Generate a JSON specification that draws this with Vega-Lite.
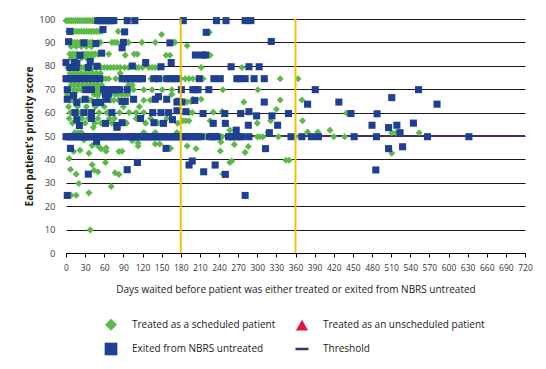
{
"$schema": "https://vega.github.io/schema/vega-lite/v6.json",
"width": 459, "height": 234,
"autosize": {"type": "none"},
"padding": {"left": 66, "top": 19, "right": 21, "bottom": 116},
"background": "white",
"config": {"font": "Open Sans", "view": {"stroke": null}},
"layer": [
{"data": {"values": [{"s": 50}]}, "mark": {"type": "rule", "color": "#4b2a5e", "strokeWidth": 2}, "encoding": {"y": {"field": "s", "type": "quantitative", "scale": {"domain": [0, 100]},
 "axis": {"values": [0,10,20,30,40,50,60,70,80,90,100], "grid": true, "gridColor": "#1a1a1a", "gridWidth": 1, "domain": false, "ticks": false, "labelPadding": 11, "labelFontSize": 9.5, "labelColor": "#444444", "title": "Each patient's priority score", "titleFontSize": 10, "titleFontWeight": "bold", "titleColor": "#1a1a1a", "titlePadding": 4}}}},
{"data": {"values": [
{"d":0,"s":99.3,"t":"G"},{"d":3,"s":99.3,"t":"G"},{"d":6,"s":99.3,"t":"G"},{"d":9,"s":99.3,"t":"G"},{"d":12,"s":99.3,"t":"G"},{"d":15,"s":99.3,"t":"G"},{"d":18,"s":99.3,"t":"G"},{"d":21,"s":99.3,"t":"G"},{"d":24,"s":99.3,"t":"G"},{"d":27,"s":99.3,"t":"G"},{"d":30,"s":99.3,"t":"G"},{"d":33,"s":99.3,"t":"G"},{"d":36,"s":99.3,"t":"G"},{"d":39,"s":99.3,"t":"G"},{"d":42,"s":99.3,"t":"G"},{"d":45,"s":99.3,"t":"G"},
{"d":4,"s":94.7,"t":"G"},{"d":8,"s":94.7,"t":"G"},{"d":12,"s":94.7,"t":"G"},{"d":16,"s":94.7,"t":"G"},{"d":20,"s":94.7,"t":"G"},{"d":24,"s":94.7,"t":"G"},{"d":28,"s":94.7,"t":"G"},{"d":32,"s":94.7,"t":"G"},{"d":36,"s":94.7,"t":"G"},{"d":40,"s":94.7,"t":"G"},{"d":44,"s":94.7,"t":"G"},{"d":48,"s":94.7,"t":"G"},{"d":52,"s":94.7,"t":"G"},{"d":56,"s":94.7,"t":"G"},{"d":82,"s":94.7,"t":"G"},{"d":150,"s":93.4,"t":"G"},{"d":225,"s":94.3,"t":"G"},
{"d":6,"s":90,"t":"G"},{"d":10,"s":90,"t":"G"},{"d":14,"s":90,"t":"G"},{"d":18,"s":90,"t":"G"},{"d":22,"s":90,"t":"G"},{"d":26,"s":90,"t":"G"},{"d":30,"s":90,"t":"G"},{"d":34,"s":90,"t":"G"},{"d":38,"s":90,"t":"G"},{"d":42,"s":90,"t":"G"},{"d":50,"s":90,"t":"G"},{"d":54,"s":90,"t":"G"},{"d":72,"s":90,"t":"G"},{"d":76,"s":90,"t":"G"},{"d":80,"s":90,"t":"G"},{"d":98,"s":90,"t":"G"},{"d":119,"s":90,"t":"G"},{"d":140,"s":90,"t":"G"},{"d":171,"s":90,"t":"G"},
{"d":8,"s":88.3,"t":"G"},{"d":16,"s":88.3,"t":"G"},{"d":24,"s":88.3,"t":"G"},{"d":32,"s":88.3,"t":"G"},{"d":40,"s":88.3,"t":"G"},{"d":190,"s":88.6,"t":"G"},
{"d":6,"s":85,"t":"G"},{"d":10,"s":85,"t":"G"},{"d":14,"s":85,"t":"G"},{"d":18,"s":85,"t":"G"},{"d":26,"s":85,"t":"G"},{"d":30,"s":85,"t":"G"},{"d":34,"s":85,"t":"G"},{"d":38,"s":85,"t":"G"},{"d":42,"s":85,"t":"G"},{"d":46,"s":85,"t":"G"},{"d":50,"s":85,"t":"G"},{"d":67,"s":85,"t":"G"},{"d":107,"s":85,"t":"G"},{"d":112,"s":85,"t":"G"},
{"d":8,"s":83.3,"t":"G"},{"d":16,"s":83.3,"t":"G"},{"d":24,"s":83.3,"t":"G"},{"d":32,"s":83.3,"t":"G"},{"d":40,"s":83.3,"t":"G"},
{"d":93,"s":84.5,"t":"G"},{"d":157,"s":84.5,"t":"G"},{"d":163,"s":84.5,"t":"G"},{"d":226,"s":84.5,"t":"G"},
{"d":3,"s":79.3,"t":"G"},{"d":9,"s":79.3,"t":"G"},{"d":12,"s":79.3,"t":"G"},{"d":20,"s":79.3,"t":"G"},{"d":24,"s":79.3,"t":"G"},{"d":28,"s":79.3,"t":"G"},{"d":31,"s":79.3,"t":"G"},{"d":42,"s":79.3,"t":"G"},{"d":46,"s":79.3,"t":"G"},{"d":55,"s":79.3,"t":"G"},{"d":60,"s":79.3,"t":"G"},{"d":65,"s":79.3,"t":"G"},{"d":70,"s":79.3,"t":"G"},{"d":75,"s":79.3,"t":"G"},{"d":80,"s":79.3,"t":"G"},{"d":85,"s":79.3,"t":"G"},{"d":92,"s":79.3,"t":"G"},{"d":98,"s":79.3,"t":"G"},{"d":110,"s":79.3,"t":"G"},{"d":114,"s":79.3,"t":"G"},{"d":120,"s":79.3,"t":"G"},{"d":130,"s":79.3,"t":"G"},{"d":135,"s":79.3,"t":"G"},{"d":140,"s":79.3,"t":"G"},{"d":145,"s":79.3,"t":"G"},{"d":212,"s":79.3,"t":"G"},{"d":276,"s":79.3,"t":"G"},
{"d":6,"s":76.8,"t":"G"},{"d":12,"s":76.8,"t":"G"},{"d":18,"s":76.8,"t":"G"},{"d":24,"s":76.8,"t":"G"},{"d":30,"s":76.8,"t":"G"},{"d":36,"s":76.8,"t":"G"},{"d":42,"s":76.8,"t":"G"},{"d":48,"s":76.8,"t":"G"},{"d":54,"s":76.8,"t":"G"},{"d":85,"s":76.8,"t":"G"},
{"d":57,"s":74.5,"t":"G"},{"d":62,"s":74.5,"t":"G"},{"d":67,"s":74.5,"t":"G"},{"d":78,"s":74.5,"t":"G"},{"d":133,"s":74.5,"t":"G"},{"d":150,"s":74.5,"t":"G"},{"d":175,"s":74.5,"t":"G"},{"d":180,"s":74.5,"t":"G"},{"d":187,"s":74.5,"t":"G"},{"d":193,"s":74.5,"t":"G"},{"d":199,"s":74.5,"t":"G"},{"d":215,"s":74.5,"t":"G"},{"d":336,"s":74.5,"t":"G"},{"d":364,"s":74.5,"t":"G"},
{"d":8,"s":71.8,"t":"G"},{"d":14,"s":71.8,"t":"G"},{"d":20,"s":71.8,"t":"G"},{"d":26,"s":71.8,"t":"G"},{"d":32,"s":71.8,"t":"G"},{"d":38,"s":71.8,"t":"G"},{"d":44,"s":71.8,"t":"G"},{"d":50,"s":71.8,"t":"G"},{"d":56,"s":71.8,"t":"G"},{"d":98,"s":71.8,"t":"G"},{"d":104,"s":71.8,"t":"G"},
{"d":12,"s":69.8,"t":"G"},{"d":18,"s":69.8,"t":"G"},{"d":24,"s":69.8,"t":"G"},{"d":48,"s":69.8,"t":"G"},{"d":52,"s":69.8,"t":"G"},{"d":106,"s":69.8,"t":"G"},{"d":122,"s":69.8,"t":"G"},{"d":135,"s":69.8,"t":"G"},{"d":151,"s":69.8,"t":"G"},{"d":166,"s":69.8,"t":"G"},{"d":246,"s":69.8,"t":"G"},{"d":301,"s":69.8,"t":"G"},
{"d":2,"s":67.8,"t":"G"},{"d":6,"s":67.8,"t":"G"},{"d":10,"s":67.8,"t":"G"},{"d":44,"s":67.8,"t":"G"},{"d":48,"s":67.8,"t":"G"},{"d":52,"s":67.8,"t":"G"},{"d":77,"s":67.8,"t":"G"},{"d":82,"s":67.8,"t":"G"},{"d":87,"s":67.8,"t":"G"},{"d":92,"s":67.8,"t":"G"},{"d":97,"s":67.8,"t":"G"},{"d":166,"s":67.8,"t":"G"},
{"d":6,"s":65.3,"t":"G"},{"d":10,"s":65.3,"t":"G"},{"d":14,"s":65.3,"t":"G"},{"d":22,"s":65.3,"t":"G"},{"d":26,"s":65.3,"t":"G"},{"d":36,"s":65.3,"t":"G"},{"d":40,"s":65.3,"t":"G"},{"d":50,"s":65.3,"t":"G"},{"d":58,"s":65.3,"t":"G"},{"d":70,"s":65.3,"t":"G"},{"d":75,"s":65.3,"t":"G"},{"d":82,"s":65.3,"t":"G"},{"d":122,"s":65.3,"t":"G"},{"d":132,"s":65.3,"t":"G"},{"d":190,"s":64.5,"t":"G"},{"d":196,"s":64.8,"t":"G"},{"d":199,"s":65.7,"t":"G"},{"d":212,"s":65.7,"t":"G"},{"d":279,"s":64.5,"t":"G"},{"d":336,"s":65.4,"t":"G"},{"d":370,"s":65.4,"t":"G"},
{"d":4,"s":62.5,"t":"G"},{"d":18,"s":62.5,"t":"G"},{"d":32,"s":62.5,"t":"G"},{"d":46,"s":62.5,"t":"G"},{"d":60,"s":62.5,"t":"G"},{"d":90,"s":62.5,"t":"G"},{"d":115,"s":62.5,"t":"G"},
{"d":7,"s":60,"t":"G"},{"d":20,"s":60,"t":"G"},{"d":33,"s":60,"t":"G"},{"d":52,"s":60,"t":"G"},{"d":64,"s":60,"t":"G"},{"d":84,"s":60,"t":"G"},{"d":99,"s":60,"t":"G"},{"d":110,"s":60,"t":"G"},{"d":122,"s":60,"t":"G"},{"d":193,"s":60,"t":"G"},{"d":198,"s":60,"t":"G"},{"d":231,"s":60.2,"t":"G"},{"d":245,"s":60.5,"t":"G"},{"d":440,"s":59.8,"t":"G"},{"d":330,"s":61.4,"t":"G"},
{"d":5,"s":57.5,"t":"G"},{"d":25,"s":57.5,"t":"G"},{"d":35,"s":57.5,"t":"G"},{"d":50,"s":57.5,"t":"G"},{"d":68,"s":57.5,"t":"G"},{"d":76,"s":57.5,"t":"G"},{"d":110,"s":57.5,"t":"G"},{"d":133,"s":57.5,"t":"G"},{"d":158,"s":57.5,"t":"G"},
{"d":10,"s":55.5,"t":"G"},{"d":30,"s":55.5,"t":"G"},{"d":45,"s":55.5,"t":"G"},{"d":55,"s":55.5,"t":"G"},{"d":72,"s":55.5,"t":"G"},{"d":95,"s":55.5,"t":"G"},{"d":125,"s":55.5,"t":"G"},{"d":145,"s":55.5,"t":"G"},{"d":175,"s":55.5,"t":"G"},{"d":300,"s":55.5,"t":"G"},
{"d":183,"s":56.5,"t":"G"},{"d":188,"s":56.5,"t":"G"},{"d":193,"s":56.5,"t":"G"},{"d":226,"s":56.5,"t":"G"},{"d":321,"s":56.5,"t":"G"},{"d":371,"s":56.5,"t":"G"},
{"d":14,"s":51.5,"t":"G"},{"d":19,"s":51.5,"t":"G"},{"d":24,"s":51.5,"t":"G"},{"d":122,"s":51.5,"t":"G"},{"d":140,"s":51.5,"t":"G"},{"d":174,"s":51.5,"t":"G"},{"d":317,"s":51.5,"t":"G"},{"d":379,"s":51.7,"t":"G"},{"d":395,"s":51.7,"t":"G"},{"d":511,"s":51.4,"t":"G"},{"d":518,"s":51.4,"t":"G"},{"d":554,"s":51.4,"t":"G"},
{"d":43,"s":53.7,"t":"G"},{"d":257,"s":52.5,"t":"G"},{"d":414,"s":52.5,"t":"G"},
{"d":90,"s":49.7,"t":"G"},{"d":94,"s":49.7,"t":"G"},{"d":122,"s":49.7,"t":"G"},{"d":128,"s":49.7,"t":"G"},{"d":150,"s":49.7,"t":"G"},{"d":182,"s":49.7,"t":"G"},{"d":218,"s":49.7,"t":"G"},{"d":241,"s":49.7,"t":"G"},{"d":245,"s":49.7,"t":"G"},{"d":280,"s":49.7,"t":"G"},{"d":300,"s":49.7,"t":"G"},{"d":304,"s":49.7,"t":"G"},{"d":309,"s":49.7,"t":"G"},{"d":333,"s":49.7,"t":"G"},{"d":360,"s":49.7,"t":"G"},{"d":420,"s":49.7,"t":"G"},{"d":437,"s":49.7,"t":"G"},
{"d":28,"s":48.3,"t":"G"},{"d":41,"s":45.9,"t":"G"},{"d":12,"s":43.4,"t":"G"},{"d":22,"s":43.9,"t":"G"},{"d":36,"s":42.6,"t":"G"},{"d":51,"s":45.5,"t":"G"},{"d":55,"s":44.5,"t":"G"},{"d":63,"s":45,"t":"G"},{"d":63,"s":43.5,"t":"G"},{"d":83,"s":43.4,"t":"G"},{"d":88,"s":43.5,"t":"G"},{"d":104,"s":48,"t":"G"},{"d":113,"s":47,"t":"G"},{"d":113,"s":45.7,"t":"G"},{"d":140,"s":46.6,"t":"G"},{"d":147,"s":46.6,"t":"G"},{"d":164,"s":44.7,"t":"G"},{"d":190,"s":45.7,"t":"G"},{"d":204,"s":44.6,"t":"G"},{"d":242,"s":43.6,"t":"G"},{"d":243,"s":47.4,"t":"G"},{"d":264,"s":46.4,"t":"G"},{"d":281,"s":43,"t":"G"},{"d":286,"s":45.5,"t":"G"},{"d":5,"s":40.4,"t":"G"},{"d":62,"s":38.7,"t":"G"},{"d":41,"s":37.7,"t":"G"},{"d":44,"s":35.4,"t":"G"},{"d":50,"s":34.7,"t":"G"},{"d":7,"s":35.7,"t":"G"},{"d":16,"s":33.7,"t":"G"},{"d":20,"s":29.7,"t":"G"},{"d":77,"s":34.3,"t":"G"},{"d":83,"s":33.6,"t":"G"},{"d":71,"s":28.4,"t":"G"},{"d":8,"s":24.7,"t":"G"},{"d":16,"s":24.7,"t":"G"},{"d":36,"s":25.7,"t":"G"},{"d":38,"s":9.8,"t":"G"},{"d":257,"s":38.7,"t":"G"},{"d":260,"s":39.3,"t":"G"},{"d":246,"s":33.8,"t":"G"},{"d":345,"s":39.6,"t":"G"},{"d":350,"s":39.6,"t":"G"},{"d":511,"s":42.6,"t":"G"},
{"d":48,"s":99.3,"t":"R"},
{"d":50,"s":99.3,"t":"B"},{"d":54,"s":99.3,"t":"B"},{"d":58,"s":99.3,"t":"B"},{"d":62,"s":99.3,"t":"B"},{"d":66,"s":99.3,"t":"B"},{"d":70,"s":99.3,"t":"B"},{"d":75,"s":99.3,"t":"B"},{"d":96,"s":99.3,"t":"B"},{"d":108,"s":99.3,"t":"B"},{"d":184,"s":99.3,"t":"B"},{"d":236,"s":99.3,"t":"B"},{"d":251,"s":99.3,"t":"B"},{"d":281,"s":99.3,"t":"B"},{"d":290,"s":99.3,"t":"B"},
{"d":6,"s":94.7,"t":"B"},{"d":58,"s":95.5,"t":"B"},{"d":92,"s":94.5,"t":"B"},{"d":220,"s":94.3,"t":"B"},
{"d":4,"s":90.3,"t":"B"},{"d":28,"s":89.8,"t":"B"},{"d":47,"s":89.5,"t":"B"},{"d":90,"s":90,"t":"B"},{"d":88,"s":87.7,"t":"B"},{"d":163,"s":89.8,"t":"B"},{"d":322,"s":90.4,"t":"B"},
{"d":22,"s":84.5,"t":"B"},{"d":56,"s":85.4,"t":"B"},{"d":203,"s":84.6,"t":"B"},{"d":214,"s":84.6,"t":"B"},{"d":219,"s":84.6,"t":"B"},
{"d":0,"s":81.4,"t":"B"},{"d":13,"s":81.4,"t":"B"},{"d":17,"s":81,"t":"B"},{"d":38,"s":81.8,"t":"B"},{"d":49,"s":79.8,"t":"B"},{"d":104,"s":79.9,"t":"B"},{"d":125,"s":81.4,"t":"B"},{"d":149,"s":79.6,"t":"B"},{"d":165,"s":81.4,"t":"B"},{"d":6,"s":79.3,"t":"B"},{"d":16,"s":79.3,"t":"B"},{"d":35,"s":79.3,"t":"B"},{"d":259,"s":79.6,"t":"B"},{"d":287,"s":79.6,"t":"B"},{"d":303,"s":79.6,"t":"B"},
{"d":0,"s":74.5,"t":"B"},{"d":3,"s":74.5,"t":"B"},{"d":6,"s":74.5,"t":"B"},{"d":9,"s":74.5,"t":"B"},{"d":12,"s":74.5,"t":"B"},{"d":15,"s":74.5,"t":"B"},{"d":18,"s":74.5,"t":"B"},{"d":21,"s":74.5,"t":"B"},{"d":25,"s":74.5,"t":"B"},{"d":29,"s":74.5,"t":"B"},{"d":33,"s":74.5,"t":"B"},{"d":37,"s":74.5,"t":"B"},{"d":41,"s":74.5,"t":"B"},{"d":45,"s":74.5,"t":"B"},{"d":49,"s":74.5,"t":"B"},{"d":53,"s":74.5,"t":"B"},{"d":88,"s":74.5,"t":"B"},{"d":92,"s":74.5,"t":"B"},{"d":96,"s":74.5,"t":"B"},{"d":100,"s":74.5,"t":"B"},{"d":104,"s":74.5,"t":"B"},{"d":108,"s":74.5,"t":"B"},{"d":112,"s":74.5,"t":"B"},{"d":116,"s":74.5,"t":"B"},{"d":120,"s":74.5,"t":"B"},{"d":138,"s":74.5,"t":"B"},{"d":145,"s":74.5,"t":"B"},{"d":158,"s":74.5,"t":"B"},{"d":164,"s":74.5,"t":"B"},{"d":170,"s":74.5,"t":"B"},{"d":176,"s":74.5,"t":"B"},{"d":209,"s":74.5,"t":"B"},{"d":232,"s":74.5,"t":"B"},{"d":242,"s":74.5,"t":"B"},{"d":268,"s":74.5,"t":"B"},{"d":273,"s":74.5,"t":"B"},{"d":281,"s":74.5,"t":"B"},{"d":295,"s":74.5,"t":"B"},{"d":311,"s":74.5,"t":"B"},
{"d":2,"s":69.8,"t":"B"},{"d":31,"s":69.8,"t":"B"},{"d":40,"s":69.8,"t":"B"},{"d":59,"s":69.8,"t":"B"},{"d":63,"s":69.8,"t":"B"},{"d":72,"s":69.8,"t":"B"},{"d":76,"s":69.8,"t":"B"},{"d":80,"s":69.8,"t":"B"},{"d":84,"s":69.8,"t":"B"},{"d":96,"s":69.8,"t":"B"},{"d":181,"s":69.8,"t":"B"},{"d":199,"s":69.8,"t":"B"},{"d":203,"s":69.8,"t":"B"},{"d":207,"s":69.8,"t":"B"},{"d":224,"s":69.8,"t":"B"},{"d":391,"s":69.8,"t":"B"},{"d":553,"s":69.8,"t":"B"},
{"d":12,"s":67.3,"t":"B"},{"d":62,"s":67.8,"t":"B"},{"d":67,"s":68,"t":"B"},{"d":145,"s":66.8,"t":"B"},
{"d":2,"s":65.7,"t":"B"},{"d":17,"s":64.3,"t":"B"},{"d":30,"s":65.7,"t":"B"},{"d":46,"s":64.3,"t":"B"},{"d":54,"s":64.3,"t":"B"},{"d":64,"s":65.7,"t":"B"},{"d":88,"s":64.8,"t":"B"},{"d":93,"s":64.8,"t":"B"},{"d":106,"s":65.7,"t":"B"},{"d":140,"s":65.7,"t":"B"},{"d":158,"s":65.7,"t":"B"},{"d":177,"s":64.8,"t":"B"},{"d":174,"s":64.5,"t":"B"},{"d":182,"s":64.5,"t":"B"},{"d":202,"s":65.2,"t":"B"},{"d":311,"s":64.5,"t":"B"},{"d":379,"s":63.6,"t":"B"},{"d":428,"s":64.5,"t":"B"},{"d":511,"s":66.4,"t":"B"},{"d":582,"s":63.6,"t":"B"},
{"d":14,"s":60,"t":"B"},{"d":28,"s":60,"t":"B"},{"d":40,"s":60,"t":"B"},{"d":72,"s":60,"t":"B"},{"d":136,"s":60,"t":"B"},{"d":149,"s":60,"t":"B"},{"d":161,"s":60,"t":"B"},{"d":174,"s":60.8,"t":"B"},{"d":188,"s":60.4,"t":"B"},{"d":215,"s":59.6,"t":"B"},{"d":249,"s":59.6,"t":"B"},{"d":274,"s":59.6,"t":"B"},{"d":287,"s":60.4,"t":"B"},{"d":299,"s":58.6,"t":"B"},{"d":323,"s":58.6,"t":"B"},{"d":349,"s":59.6,"t":"B"},{"d":447,"s":59.6,"t":"B"},{"d":488,"s":59.5,"t":"B"},
{"d":17,"s":57,"t":"B"},{"d":21,"s":54.5,"t":"B"},{"d":40,"s":57.5,"t":"B"},{"d":62,"s":55.4,"t":"B"},{"d":80,"s":54.5,"t":"B"},{"d":88,"s":55.7,"t":"B"},{"d":117,"s":57.5,"t":"B"},{"d":138,"s":55.7,"t":"B"},{"d":153,"s":55.4,"t":"B"},{"d":167,"s":57,"t":"B"},{"d":231,"s":55.4,"t":"B"},{"d":250,"s":55.4,"t":"B"},{"d":286,"s":54.6,"t":"B"},{"d":332,"s":54.6,"t":"B"},{"d":480,"s":54.6,"t":"B"},{"d":506,"s":53.6,"t":"B"},{"d":519,"s":54.6,"t":"B"},{"d":545,"s":55.5,"t":"B"},
{"d":80,"s":53.7,"t":"B"},{"d":267,"s":52.5,"t":"B"},{"d":319,"s":51.4,"t":"B"},{"d":524,"s":51.4,"t":"B"},
{"d":0,"s":49.7,"t":"B"},{"d":3,"s":49.7,"t":"B"},{"d":6,"s":49.7,"t":"B"},{"d":9,"s":49.7,"t":"B"},{"d":12,"s":49.7,"t":"B"},{"d":15,"s":49.7,"t":"B"},{"d":18,"s":49.7,"t":"B"},{"d":21,"s":49.7,"t":"B"},{"d":24,"s":49.7,"t":"B"},{"d":27,"s":49.7,"t":"B"},{"d":30,"s":49.7,"t":"B"},{"d":33,"s":49.7,"t":"B"},{"d":36,"s":49.7,"t":"B"},{"d":39,"s":49.7,"t":"B"},{"d":42,"s":49.7,"t":"B"},{"d":45,"s":49.7,"t":"B"},{"d":48,"s":49.7,"t":"B"},{"d":51,"s":49.7,"t":"B"},{"d":54,"s":49.7,"t":"B"},{"d":57,"s":49.7,"t":"B"},{"d":60,"s":49.7,"t":"B"},{"d":63,"s":49.7,"t":"B"},{"d":66,"s":49.7,"t":"B"},{"d":69,"s":49.7,"t":"B"},{"d":72,"s":49.7,"t":"B"},{"d":75,"s":49.7,"t":"B"},{"d":78,"s":49.7,"t":"B"},{"d":81,"s":49.7,"t":"B"},{"d":84,"s":49.7,"t":"B"},{"d":87,"s":49.7,"t":"B"},
{"d":97,"s":49.7,"t":"B"},{"d":100,"s":49.7,"t":"B"},{"d":103,"s":49.7,"t":"B"},{"d":106,"s":49.7,"t":"B"},{"d":109,"s":49.7,"t":"B"},{"d":112,"s":49.7,"t":"B"},{"d":115,"s":49.7,"t":"B"},{"d":118,"s":49.7,"t":"B"},{"d":121,"s":49.7,"t":"B"},{"d":124,"s":49.7,"t":"B"},{"d":127,"s":49.7,"t":"B"},{"d":130,"s":49.7,"t":"B"},{"d":133,"s":49.7,"t":"B"},{"d":136,"s":49.7,"t":"B"},{"d":139,"s":49.7,"t":"B"},{"d":142,"s":49.7,"t":"B"},{"d":145,"s":49.7,"t":"B"},{"d":148,"s":49.7,"t":"B"},{"d":151,"s":49.7,"t":"B"},{"d":154,"s":49.7,"t":"B"},{"d":157,"s":49.7,"t":"B"},{"d":160,"s":49.7,"t":"B"},{"d":163,"s":49.7,"t":"B"},{"d":166,"s":49.7,"t":"B"},{"d":169,"s":49.7,"t":"B"},{"d":172,"s":49.7,"t":"B"},{"d":175,"s":49.7,"t":"B"},{"d":178,"s":49.7,"t":"B"},{"d":181,"s":49.7,"t":"B"},{"d":184,"s":49.7,"t":"B"},
{"d":190,"s":49.7,"t":"B"},{"d":194,"s":49.7,"t":"B"},{"d":198,"s":49.7,"t":"B"},{"d":203,"s":49.7,"t":"B"},{"d":207,"s":49.7,"t":"B"},{"d":212,"s":49.7,"t":"B"},{"d":225,"s":49.7,"t":"B"},{"d":229,"s":49.7,"t":"B"},{"d":233,"s":49.7,"t":"B"},{"d":237,"s":49.7,"t":"B"},{"d":255,"s":49.7,"t":"B"},{"d":259,"s":49.7,"t":"B"},{"d":262,"s":49.7,"t":"B"},{"d":267,"s":49.7,"t":"B"},{"d":272,"s":49.7,"t":"B"},{"d":276,"s":49.7,"t":"B"},{"d":287,"s":49.7,"t":"B"},{"d":353,"s":49.7,"t":"B"},{"d":370,"s":49.7,"t":"B"},{"d":385,"s":49.7,"t":"B"},{"d":396,"s":49.7,"t":"B"},{"d":452,"s":49.7,"t":"B"},{"d":487,"s":49.7,"t":"B"},{"d":567,"s":49.7,"t":"B"},{"d":632,"s":49.7,"t":"B"},
{"d":7,"s":44.7,"t":"B"},{"d":48,"s":47.7,"t":"B"},{"d":157,"s":44.7,"t":"B"},{"d":112,"s":38.7,"t":"B"},{"d":96,"s":35.6,"t":"B"},{"d":35,"s":33.7,"t":"B"},{"d":2,"s":24.6,"t":"B"},{"d":193,"s":37.6,"t":"B"},{"d":198,"s":39.3,"t":"B"},{"d":216,"s":34.7,"t":"B"},{"d":234,"s":37.6,"t":"B"},{"d":250,"s":33.6,"t":"B"},{"d":281,"s":24.6,"t":"B"},{"d":313,"s":44.6,"t":"B"},{"d":486,"s":35.5,"t":"B"},{"d":506,"s":44.6,"t":"B"},{"d":528,"s":45.4,"t":"B"}
]},
"mark": {"type": "point", "filled": true, "opacity": 1, "size": 50},
"encoding": {
"x": {"field": "d", "type": "quantitative", "scale": {"domain": [0, 720], "nice": false},
 "axis": {"values": [0,30,60,90,120,150,180,210,240,270,300,330,360,390,420,450,480,510,540,570,600,630,660,690,720], "grid": false, "domainColor": "#000000", "tickColor": "#000000", "tickSize": 4, "labelFontSize": 8.5, "labelColor": "#333333", "labelPadding": 6, "labelFlush": false, "labelOverlap": false, "title": "Days waited before patient was either treated or exited from NBRS untreated", "titleFontSize": 10, "titleFontWeight": "normal", "titleColor": "#1a1a1a", "titlePadding": 13}},
"y": {"field": "s", "type": "quantitative", "scale": {"domain": [0, 100]},
 "axis": {"values": [0,10,20,30,40,50,60,70,80,90,100], "grid": true, "gridColor": "#1a1a1a", "gridWidth": 1, "domain": false, "ticks": false, "labelPadding": 11, "labelFontSize": 9.5, "labelColor": "#444444", "title": "Each patient's priority score", "titleFontSize": 10, "titleFontWeight": "bold", "titleColor": "#1a1a1a", "titlePadding": 4}},
"color": {"field": "t", "type": "nominal", "scale": {"domain": ["G","R","B","T"], "range": ["#5cb947","#e2173d","#1e3f93","#4b2a5e"]},
 "legend": {"orient": "none", "legendX": 37, "legendY": 298, "direction": "horizontal", "columns": 2, "title": null, "labelFontSize": 10, "labelColor": "#1a1a1a", "labelLimit": 300, "columnPadding": 14, "rowPadding": 1, "labelOffset": 13, "symbolOpacity": 1, "symbolStrokeWidth": 2.5, "labelExpr": "datum.label=='G'?'Treated as a scheduled patient':datum.label=='R'?'Treated as an unscheduled patient':datum.label=='B'?'Exited from NBRS untreated':'Threshold'"}},
"shape": {"field": "t", "type": "nominal", "scale": {"domain": ["G","R","B","T"], "range": ["diamond","triangle-up","square","stroke"]},
 "legend": {"orient": "none", "legendX": 37, "legendY": 298, "direction": "horizontal", "columns": 2, "title": null, "labelFontSize": 10, "labelColor": "#1a1a1a", "labelLimit": 300, "columnPadding": 14, "rowPadding": 1, "labelOffset": 13, "symbolOpacity": 1, "symbolStrokeWidth": 2.5, "labelExpr": "datum.label=='G'?'Treated as a scheduled patient':datum.label=='R'?'Treated as an unscheduled patient':datum.label=='B'?'Exited from NBRS untreated':'Threshold'"}}
}},
{"data": {"values": [{"t": "G"}, {"t": "R"}, {"t": "B"}, {"t": "T"}]},
"mark": {"type": "point", "filled": true, "opacity": 0},
"encoding": {
"color": {"field": "t", "type": "nominal", "scale": {"domain": ["G","R","B","T"], "range": ["#5cb947","#e2173d","#1e3f93","#4b2a5e"]},
 "legend": {"orient": "none", "legendX": 37, "legendY": 298, "direction": "horizontal", "columns": 2, "title": null, "labelFontSize": 10, "labelColor": "#1a1a1a", "labelLimit": 300, "columnPadding": 14, "rowPadding": 1, "labelOffset": 13, "symbolOpacity": 1, "symbolStrokeWidth": 2.5, "labelExpr": "datum.label=='G'?'Treated as a scheduled patient':datum.label=='R'?'Treated as an unscheduled patient':datum.label=='B'?'Exited from NBRS untreated':'Threshold'"}},
"shape": {"field": "t", "type": "nominal", "scale": {"domain": ["G","R","B","T"], "range": ["diamond","triangle-up","square","stroke"]},
 "legend": {"orient": "none", "legendX": 37, "legendY": 298, "direction": "horizontal", "columns": 2, "title": null, "labelFontSize": 10, "labelColor": "#1a1a1a", "labelLimit": 300, "columnPadding": 14, "rowPadding": 1, "labelOffset": 13, "symbolOpacity": 1, "symbolStrokeWidth": 2.5, "labelExpr": "datum.label=='G'?'Treated as a scheduled patient':datum.label=='R'?'Treated as an unscheduled patient':datum.label=='B'?'Exited from NBRS untreated':'Threshold'"}},
"size": {"field": "t", "type": "nominal", "scale": {"domain": ["G","R","B","T"], "range": [144,169,56,511]},
 "legend": {"orient": "none", "legendX": 37, "legendY": 298, "direction": "horizontal", "columns": 2, "title": null, "labelFontSize": 10, "labelColor": "#1a1a1a", "labelLimit": 300, "columnPadding": 14, "rowPadding": 1, "labelOffset": 13, "symbolOpacity": 1, "symbolStrokeWidth": 2.5, "labelExpr": "datum.label=='G'?'Treated as a scheduled patient':datum.label=='R'?'Treated as an unscheduled patient':datum.label=='B'?'Exited from NBRS untreated':'Threshold'"}},
"stroke": {"field": "t", "type": "nominal", "scale": {"domain": ["G","R","B","T"], "range": ["transparent","transparent","transparent","#4b2a5e"]},
 "legend": {"orient": "none", "legendX": 37, "legendY": 298, "direction": "horizontal", "columns": 2, "title": null, "labelFontSize": 10, "labelColor": "#1a1a1a", "labelLimit": 300, "columnPadding": 14, "rowPadding": 1, "labelOffset": 13, "symbolOpacity": 1, "symbolStrokeWidth": 2.5, "labelExpr": "datum.label=='G'?'Treated as a scheduled patient':datum.label=='R'?'Treated as an unscheduled patient':datum.label=='B'?'Exited from NBRS untreated':'Threshold'"}}
}},
{"data": {"values": [{"d": 180}, {"d": 360}]}, "mark": {"type": "rule", "color": "#f2c100", "strokeWidth": 2}, "encoding": {"x": {"field": "d", "type": "quantitative",
 "axis": {"values": [0,30,60,90,120,150,180,210,240,270,300,330,360,390,420,450,480,510,540,570,600,630,660,690,720], "grid": false, "domainColor": "#000000", "tickColor": "#000000", "tickSize": 4, "labelFontSize": 8.5, "labelColor": "#333333", "labelPadding": 6, "labelFlush": false, "labelOverlap": false, "title": "Days waited before patient was either treated or exited from NBRS untreated", "titleFontSize": 10, "titleFontWeight": "normal", "titleColor": "#1a1a1a", "titlePadding": 13}}}}
]
}
